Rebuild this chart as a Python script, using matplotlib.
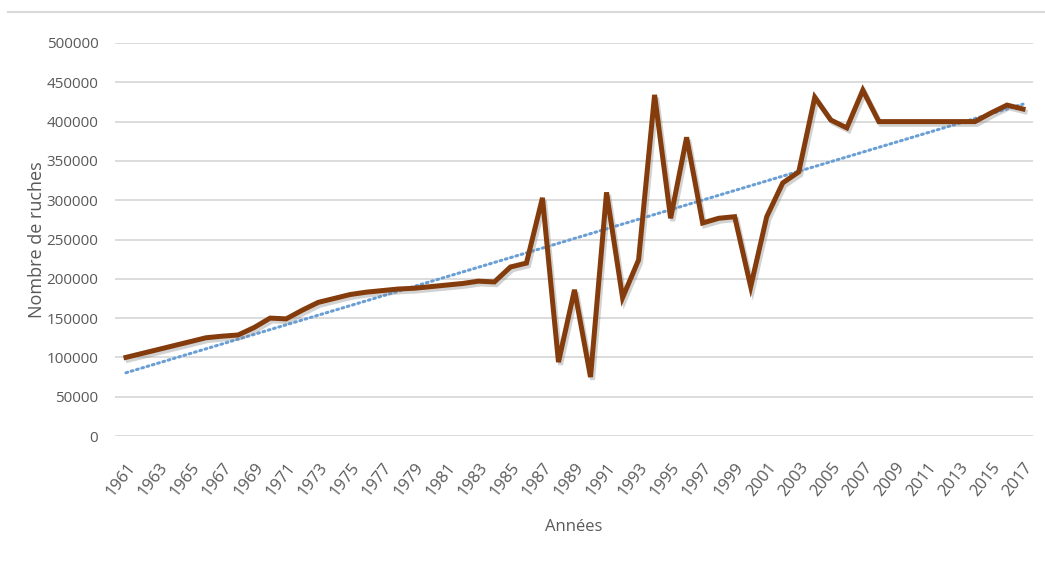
import numpy as np
import matplotlib
matplotlib.use("Agg")
import matplotlib.pyplot as plt
import matplotlib.patheffects as pe
from matplotlib.lines import Line2D

plt.rcParams['font.family'] = ['Open Sans', 'DejaVu Sans']

# Nombre de ruches par année
years = list(range(1961, 2018))
hives = [
    100000, 105000, 110000, 115000, 120000, 125000, 127000, 128500, 138000, 150000,
    149000, 160000, 170000, 175000, 180000, 183000, 185000, 187000, 188000, 190000,
    192000, 194000, 197000, 196000, 215000, 220000, 303000, 94000, 186000, 75000,
    310000, 176000, 224000, 434000, 277000, 380000, 271000, 277000, 279000, 190000,
    279000, 322000, 336000, 431000, 402000, 392000, 440000, 400000, 400000, 400000,
    400000, 400000, 400000, 400000, 411000, 421000, 416000,
]
tick_years = list(range(1961, 2018, 2))
y_ticks = list(range(0, 500001, 50000))

line_color = '#843C0C'
trend_color = '#6A9FD6'
text_color = '#595959'
grid_color = '#d9d9d9'

fig = plt.figure(figsize=(10.45, 5.67), dpi=100)
ax = fig.add_axes([115 / 1045, 131 / 567, 918 / 1045, 393 / 567])

x = np.array(years)
y = np.array(hives)

# courbe de tendance linéaire (comme Excel)
coef = np.polyfit(x, y, 1)
ax.plot(x, np.polyval(coef, x), color=trend_color, lw=2.2,
        linestyle=(0, (0.6, 1.2)), dash_capstyle='round', zorder=2)

ax.plot(x, y, color=line_color, lw=3.6, solid_joinstyle='miter', zorder=3,
        path_effects=[pe.SimpleLineShadow(offset=(1.5, -2), shadow_color='#7f7f7f', alpha=0.35),
                      pe.Normal()])

ax.set_xlim(1961 - 11 / 16.05, 2017 + 10 / 16.05)
ax.set_ylim(0, 500000)
ax.set_yticks(y_ticks)
ax.set_yticklabels([str(v) for v in y_ticks])
ax.set_xticks(tick_years)
ax.set_xticklabels([str(v) for v in tick_years], rotation=52, ha='right',
                   rotation_mode='anchor')

ax.grid(axis='y', color=grid_color, lw=1.3)
ax.set_axisbelow(True)
for s in ax.spines.values():
    s.set_visible(False)
ax.tick_params(axis='both', length=0, colors=text_color, labelsize=11)
ax.tick_params(axis='y', pad=12)
ax.tick_params(axis='x', pad=17, labelsize=12)

ax.set_ylabel('Nombre de ruches', color=text_color, fontsize=13, labelpad=0)
ax.set_xlabel('Années', color=text_color, fontsize=12, labelpad=14)

# bordure supérieure du cadre
fig.add_artist(Line2D([0.008, 1.0], [1 - 12 / 567, 1 - 12 / 567],
                      color=grid_color, lw=1.5, transform=fig.transFigure))

fig.savefig('out.png', dpi=100)
